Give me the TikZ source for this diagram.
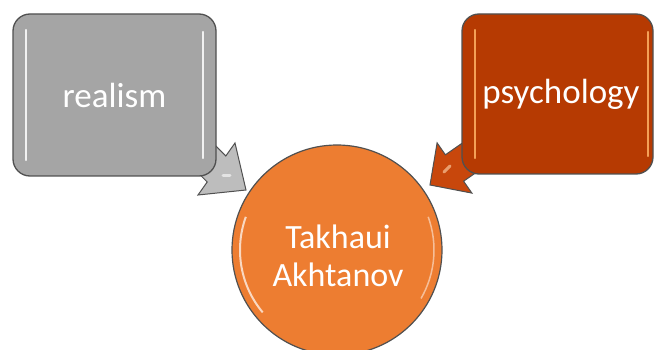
\documentclass[tikz,border=0pt]{standalone}
\usepackage{fontspec}
\setmainfont{Carlito}
\definecolor{boxgray}{HTML}{A5A5A5}
\definecolor{arrgray}{HTML}{BDBDBD}
\definecolor{boxrust}{HTML}{B63A02}
\definecolor{arrrust}{HTML}{C8470C}
\definecolor{circorange}{HTML}{ED7D31}
\definecolor{edgegray}{HTML}{505050}
\begin{document}
\begin{tikzpicture}[x=1pt,y=-1pt,
  card/.style={draw=edgegray, line width=1.3pt, rounded corners=17pt, inner sep=0pt},
  blockarrow/.style={draw=edgegray, line width=1pt, line join=miter},
  gloss/.style={line width=2.4pt, line cap=round, opacity=0.85},
  lbl/.style={text=white, font=\fontsize{35}{38}\selectfont, align=center}]
\useasboundingbox (0,0) rectangle (654,350);
% arrows (behind boxes)
\draw[blockarrow, fill=arrgray] (246,190) -- (235,143) -- (225.8,156) -- (185.3,115) -- (166.7,141) -- (207.2,182) -- (198,195) -- cycle;
\draw[blockarrow, fill=arrrust] (430,185) -- (437.1,142.9) -- (445.4,154.8) -- (486.5,126.3) -- (504.7,152.7) -- (463.6,181.2) -- (471.9,193.1) -- cycle;
\draw[white, line width=3pt, line cap=round, opacity=0.6] (223,176) -- (230,176);
\draw[white!70!orange, line width=3pt, line cap=round, opacity=0.6] (444,172) -- (450,166);
% boxes
\path[card, fill=boxgray] (13,14) rectangle (216,176);
\node[lbl] (realism) at (114.5,95) {realism};
\path[card, fill=boxrust] (462,14) rectangle (653,174);
\node[lbl] (psych) at (561,94) {psychology};
\draw[gloss, white] (26,30) -- (26,160);
\draw[gloss, white] (203,32) -- (203,158);
\draw[gloss, orange!60!white] (475,30) -- (475,158);
\draw[gloss, orange!60!white] (648,32) -- (648,156);
% circle
\draw[edgegray, line width=1.2pt, fill=circorange] (337,250) circle[radius=105];
\draw[white, line width=2pt, opacity=0.7] (337,250) ++(200:97) arc[start angle=200, end angle=140, radius=97];
\draw[white, line width=1.5pt, opacity=0.5] (337,250) ++(-20:97) arc[start angle=-20, end angle=30, radius=97];
\node[lbl, font=\fontsize{34}{38}\selectfont] (center) at (338,256) {Takhaui\\Akhtanov};
\end{tikzpicture}
\end{document}
